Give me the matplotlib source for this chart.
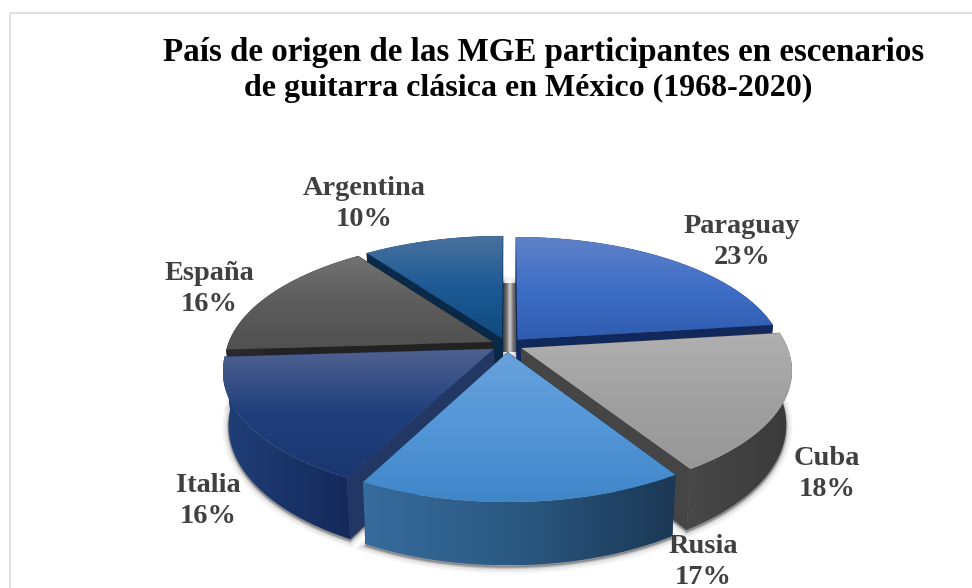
import numpy as np
import matplotlib
matplotlib.use("Agg")
import matplotlib.pyplot as plt
from matplotlib.colors import LinearSegmentedColormap
from matplotlib.patches import Polygon, Rectangle

# Data
paises = ["Paraguay", "Cuba", "Rusia", "Italia", "España", "Argentina"]
porcentajes = [23, 18, 16.6, 16.4, 16, 10]
titulo_1 = "País de origen de las MGE participantes en escenarios"
titulo_2 = "de guitarra clásica en México (1968-2020)"

# Label centres, in picture pixels
label_x = [742, 827, 703, 208, 209, 364]
label_y = [242, 474, 562, 501, 289, 204]

# Top face gradient (top to bottom), outer wall gradient (left to right), cut face
top_colors = [["#5f82c8", "#3f6ec6", "#2f5cae"],
              ["#b0b0b0", "#a0a0a0", "#989898"],
              ["#68a2da", "#5496d8", "#3f86c8"],
              ["#4f6190", "#1f3f7c", "#1a3670"],
              ["#727272", "#5c5c5c", "#505050"],
              ["#4a729f", "#1c5a94", "#114a80"]]
wall_colors = [["#12295a", "#12295a"],
               ["#484848", "#3a3a3a"],
               ["#376c9e", "#2a5880", "#1b3855"],
               ["#1f3f78", "#15295a"],
               ["#2a2a2a", "#222222"],
               ["#0a2a4a", "#0a2a4a"]]
cut_colors = ["#11285c", "#454545", "#1c3a58", "#233765", "#222222", "#0a2848"]
draw_order = [5, 0, 4, 1, 3, 2]  # back to front

# Projection of the tilted disc
cx, cy = 507, 345
A, B, k = 265, 121.6, 0.169
explode = 0.06
height = 52
shrink = 0.98


def project(X, Y, low=False):
    d = 1 - k * Y
    px = A * X / d
    py = B * Y / d
    if low:
        return cx + px * shrink, cy + py + height / d
    return cx + px, cy + py


def gradient(ax, colors, poly_xy, z, horizontal=False):
    cmap = LinearSegmentedColormap.from_list("g", colors)
    xs, ys = poly_xy[:, 0], poly_xy[:, 1]
    g = np.linspace(0, 1, 256)
    g = g.reshape(1, -1) if horizontal else g.reshape(-1, 1)
    im = ax.imshow(g, cmap=cmap, aspect="auto", zorder=z, interpolation="bilinear",
                   extent=(xs.min(), xs.max(), ys.max(), ys.min()))
    im.set_clip_path(Polygon(poly_xy, closed=True, transform=ax.transData))


fig = plt.figure(figsize=(9.72, 5.88), dpi=100)
ax = fig.add_axes([0, 0, 1, 1])
ax.axis("off")

ax.add_patch(Rectangle((9.5, 12.5), 1000, 1000, fill=False, edgecolor="#d9d9d9", lw=1.2))

# Angles
edges = np.concatenate([[0], np.cumsum(porcentajes)]) / sum(porcentajes) * 2 * np.pi

# Soft shadow under the whole pie
for i in draw_order:
    th = np.linspace(edges[i], edges[i + 1], 80)
    mid = (edges[i] + edges[i + 1]) / 2
    ox, oy = explode * np.sin(mid), -explode * np.cos(mid)
    lx, ly = project(ox + np.sin(th), oy - np.cos(th), low=True)
    ax_x = np.r_[project(ox, oy, low=True)[0], lx]
    ax_y = np.r_[project(ox, oy, low=True)[1], ly]
    for lw, a in [(9, 0.05), (6, 0.08), (3, 0.16), (1.5, 0.25)]:
        ax.fill(ax_x, ax_y + 2, facecolor="#555555", edgecolor="#555555", alpha=a, lw=lw, zorder=1)

# Grey strip seen through the gap between the first and last slice
strip = np.array([[0.75, 0.55, 0.2, 0.55, 0.7]])
ax.imshow(strip, cmap="gray_r", vmin=0, vmax=1, aspect="auto", zorder=2, interpolation="bilinear",
          extent=(502, 518, 352, 283))

z = 3
for i in draw_order:
    a0, a1 = edges[i], edges[i + 1]
    mid = (a0 + a1) / 2
    ox, oy = explode * np.sin(mid), -explode * np.cos(mid)
    th = np.linspace(a0, a1, 120)
    X, Y = ox + np.sin(th), oy - np.cos(th)

    ux, uy = project(X, Y)
    lx, ly = project(X, Y, low=True)
    ax0, ay0 = project(ox, oy)
    bx0, by0 = project(ox, oy, low=True)

    # cut faces
    for j in (0, -1):
        ax.fill([ax0, ux[j], lx[j], bx0], [ay0, uy[j], ly[j], by0],
                color=cut_colors[i], lw=0.5, zorder=z)
    z += 1

    # outer wall
    wall = np.column_stack([np.r_[ux, lx[::-1]], np.r_[uy, ly[::-1]]])
    gradient(ax, wall_colors[i], wall, z, horizontal=True)
    z += 1

    # top face
    top = np.column_stack([np.r_[ax0, ux], np.r_[ay0, uy]])
    gradient(ax, top_colors[i], top, z)
    z += 1

ax.set_xlim(0, 972)
ax.set_ylim(588, 0)

# Labels
for nombre, valor, x, y in zip(paises, porcentajes, label_x, label_y):
    ax.text(x, y, f"{nombre}\n{valor:.0f}%", ha="center", va="center", family="Liberation Serif",
            weight="bold", fontsize=20.4, color="#404040", linespacing=1.27, zorder=50)

ax.text(543.5, 53, titulo_1, ha="center", va="center", family="Liberation Serif",
        weight="bold", fontsize=23.8, color="black", zorder=50)
ax.text(528.5, 88, titulo_2, ha="center", va="center", family="Liberation Serif",
        weight="bold", fontsize=23, color="black", zorder=50)

fig.savefig("out.png", dpi=100)
